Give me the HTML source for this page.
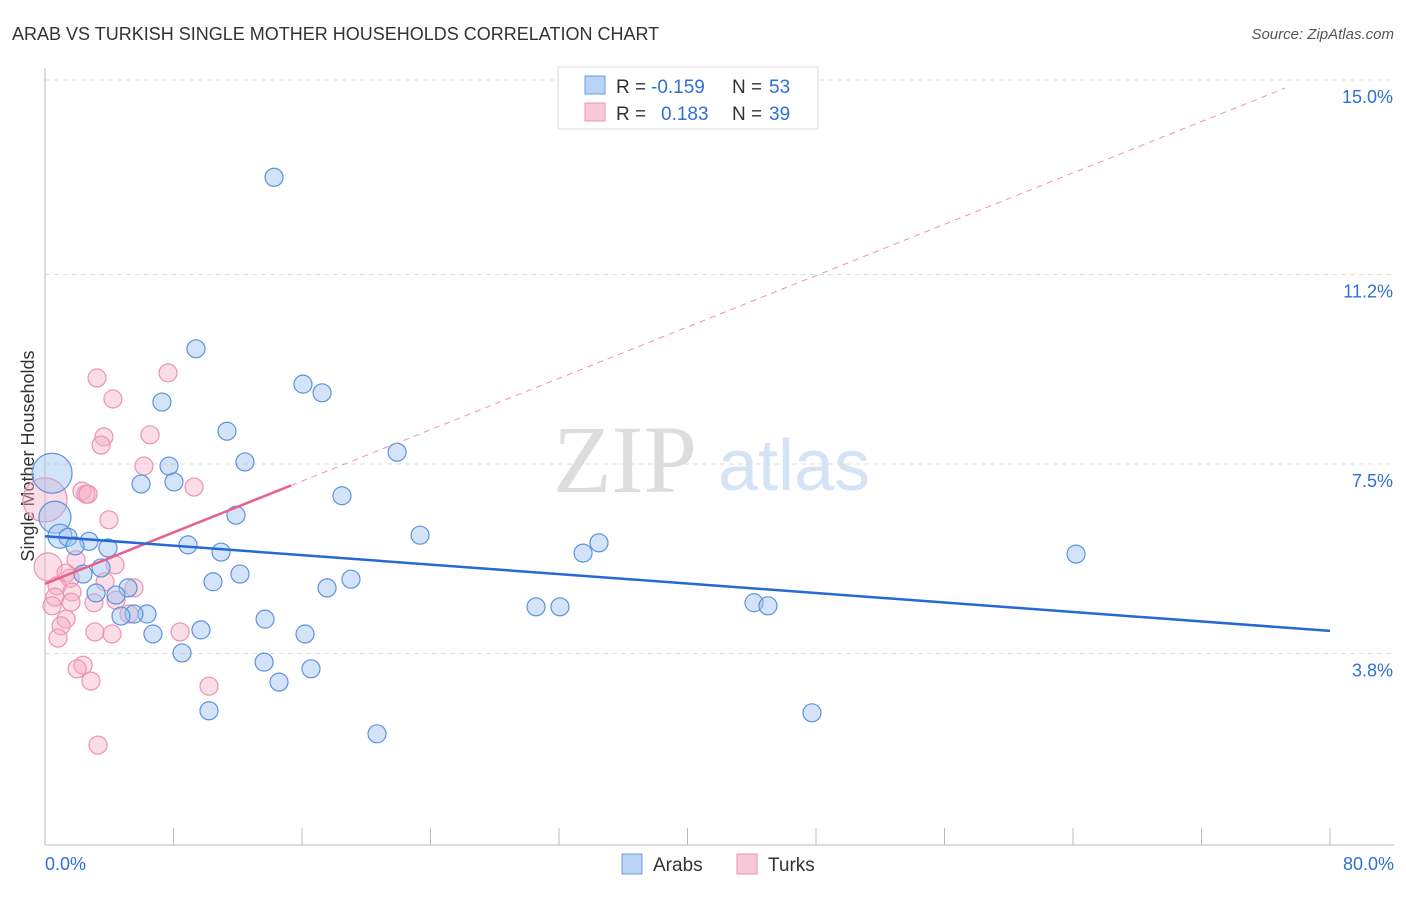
<!DOCTYPE html>
<html><head><meta charset="utf-8"><style>
body{margin:0;background:#fff;font-family:"Liberation Sans",sans-serif}
svg text{font-family:"Liberation Sans",sans-serif}
</style></head><body>
<svg id="chart" width="1406" height="892" viewBox="0 0 1406 892" xmlns="http://www.w3.org/2000/svg">
<text x="12" y="40" font-size="18" fill="#333">ARAB VS TURKISH SINGLE MOTHER HOUSEHOLDS CORRELATION CHART</text>
<text x="1394" y="39" font-size="15" fill="#555" font-style="italic" text-anchor="end">Source: ZipAtlas.com</text>
<text x="553" y="492" font-size="96" fill="#ddd" font-family="Liberation Serif" style="font-family:'Liberation Serif',serif">ZIP</text>
<text x="718" y="490" font-size="72" fill="#d4e3f5">atlas</text>
<text transform="translate(34,456) rotate(-90)" font-size="18" fill="#333" text-anchor="middle">Single Mother Households</text>
<g id="grid"></g><g id="axes"></g><g id="marks"></g>
<g>
<rect x="558" y="67" width="260" height="62" fill="#fff" stroke="#ddd"/>
<rect x="585" y="76" width="20" height="18" fill="#b9d3f5" stroke="#6a9ee0"/>
<rect x="585" y="103" width="20" height="18" fill="#f9c9d8" stroke="#ec93b1"/>
<text x="616" y="93" font-size="19" fill="#333">R =</text>
<text x="651" y="93" font-size="19" fill="#2f6fd6">-0.159</text>
<text x="732" y="93" font-size="19" fill="#333">N =</text>
<text x="769" y="93" font-size="19" fill="#2f6fd6">53</text>
<text x="616" y="120" font-size="19" fill="#333">R =</text>
<text x="661" y="120" font-size="19" fill="#2f6fd6">0.183</text>
<text x="732" y="120" font-size="19" fill="#333">N =</text>
<text x="769" y="120" font-size="19" fill="#2f6fd6">39</text>
</g>
<g>
<rect x="622" y="854" width="20" height="20" fill="#b9d3f5" stroke="#6a9ee0"/>
<text x="653" y="871" font-size="19" fill="#333">Arabs</text>
<rect x="737" y="854" width="20" height="20" fill="#f9c9d8" stroke="#ec93b1"/>
<text x="768" y="871" font-size="19" fill="#333">Turks</text>
</g>
</svg>
<script>
const yTicks=[15.0,11.2,7.5,3.8];
const yTickLabels=["15.0%","11.2%","7.5%","3.8%"];
const xTickLabels=["0.0%","80.0%"];
const arabX=[14.26,9.40,16.06,17.25,7.28,11.33,21.92,7.72,12.45,5.98,8.03,18.49,11.89,23.35,0.44,0.62,0.93,1.43,2.74,1.87,3.92,8.90,10.96,34.49,33.50,64.19,2.37,3.49,12.14,10.46,19.05,17.56,5.17,3.18,4.42,30.57,32.06,44.14,45.01,6.35,5.54,4.73,13.70,6.72,9.71,16.19,8.53,13.64,16.56,14.57,10.21,47.75,20.67];
const arabY=[13.1,9.75,9.06,8.89,8.71,8.14,7.73,7.46,7.54,7.11,7.15,6.88,6.50,6.11,7.32,6.46,6.09,6.07,5.99,5.90,5.86,5.92,5.78,5.96,5.76,5.74,5.35,5.47,5.35,5.20,5.25,5.08,5.08,4.98,4.94,4.71,4.71,4.79,4.73,4.57,4.57,4.53,4.47,4.18,4.26,4.18,3.81,3.63,3.50,3.24,2.68,2.64,2.23];
const arabR=[9,9,9,9,9,9,9,9,9,9,9,9,9,9,20,16,12,9,9,9,9,9,9,9,9,9,9,9,9,9,9,9,9,9,9,9,9,9,9,9,9,9,9,9,9,9,9,9,9,9,9,9,9];
const turkX=[3.24,7.66,4.23,3.67,6.54,3.49,6.16,9.28,0,2.30,2.55,2.68,3.98,0.19,1.93,4.36,1.31,1.56,0.75,3.74,5.54,1.68,0.62,1.62,3.05,0.44,4.42,5.23,1.31,1.00,0.81,3.11,4.17,8.41,2.37,2.00,2.86,10.21,3.30];
const turkY=[9.18,9.28,8.77,8.03,8.07,7.87,7.46,7.05,6.80,6.97,6.91,6.91,6.41,5.49,5.63,5.53,5.37,5.27,5.12,5.20,5.08,5.00,4.90,4.80,4.79,4.73,4.84,4.57,4.47,4.34,4.10,4.22,4.18,4.22,3.57,3.50,3.26,3.16,2.01];
const turkR=[9,9,9,9,9,9,9,9,22,9,9,9,9,14,9,9,9,9,9,9,9,9,9,9,9,9,9,9,9,9,9,9,9,9,9,9,9,9,9];
const arabLine=[6.09,4.24];
const turkLine=[5.16,0.1254];
const X=v=>45+v/80*1285, Y=v=>848-v*51.2;
const NS="http://www.w3.org/2000/svg";
function mk(t,a,p){const e=document.createElementNS(NS,t);for(const k in a)e.setAttribute(k,a[k]);p.appendChild(e);return e;}
const grid=document.getElementById('grid'),axes=document.getElementById('axes'),marks=document.getElementById('marks');
yTicks.forEach((t,i)=>{
 const l=mk('line',{x1:45,x2:1394,y1:Y(t),y2:Y(t),stroke:'#ddd','stroke-dasharray':'5,4'},grid);
 
 
 const tx=mk('text',{x:1393,y:Y(t)+23,'font-size':18,fill:'#2f6fd6','text-anchor':'end'},axes);
 tx.textContent=yTickLabels[i];
 
 
});
const ya=mk('line',{x1:45,x2:45,y1:68,y2:845,stroke:'#bbb'},axes);


const xa=mk('line',{x1:45,x2:1394,y1:845,y2:845,stroke:'#bbb'},axes);


for(let k=0;k<=10;k++){const t=mk('line',{x1:X(k*8),x2:X(k*8),y1:828,y2:845,stroke:'#bbb'},axes);
 
 }
[[0,45,'start'],[80,1394,'end']].forEach((d,i)=>{const t=mk('text',{x:d[1],y:870,'font-size':18,fill:'#2f6fd6','text-anchor':d[2]},axes);t.textContent=xTickLabels[i];
 
 });
turkX.forEach((x,i)=>{const c=mk('circle',{cx:X(x),cy:Y(turkY[i]),r:turkR[i],fill:'rgba(246,170,196,0.4)',stroke:'#ec93b1','stroke-width':1.2},marks);
 
 });
arabX.forEach((x,i)=>{const c=mk('circle',{cx:X(x),cy:Y(arabY[i]),r:arabR[i],fill:'rgba(160,196,240,0.45)',stroke:'#5b93dd','stroke-width':1.2},marks);
 
 });
const xmax=Math.max(...turkX)*1.5;
const td=mk('line',{x1:X(xmax),y1:Y(turkLine[0]+turkLine[1]*xmax),x2:X(77.2),y2:Y(turkLine[0]+turkLine[1]*77.2),stroke:'#ec93b1','stroke-dasharray':'6,5'},marks);


const ts=mk('line',{x1:X(0),y1:Y(turkLine[0]),x2:X(xmax),y2:Y(turkLine[0]+turkLine[1]*xmax),stroke:'#e8608c','stroke-width':2.5},marks);


const al=mk('line',{x1:X(0),y1:Y(arabLine[0]),x2:X(80),y2:Y(arabLine[1]),stroke:'#2469d4','stroke-width':2.5},marks);


</script>
</body></html>
